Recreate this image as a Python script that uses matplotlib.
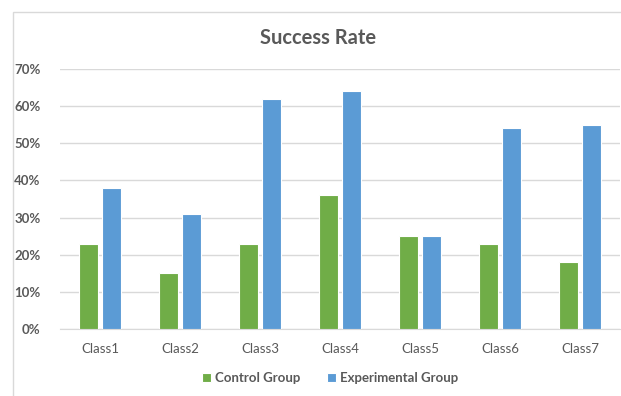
import matplotlib
matplotlib.use('Agg')
import matplotlib.pyplot as plt
import numpy as np
from matplotlib.patches import Rectangle

plt.rcParams['font.family'] = ['Lato', 'DejaVu Sans']

# data
classes = ['Class1', 'Class2', 'Class3', 'Class4', 'Class5', 'Class6', 'Class7']
control = [0.23, 0.15, 0.23, 0.36, 0.25, 0.23, 0.18]
experimental = [0.38, 0.31, 0.62, 0.64, 0.25, 0.54, 0.55]
yticks = [0, 0.1, 0.2, 0.3, 0.4, 0.5, 0.6, 0.7]

green = '#70AD47'
blue = '#5B9BD5'
txt = '#595959'

fig = plt.figure(figsize=[6.21, 3.96], dpi=100)
ax = fig.add_axes([60/621, 67/396, 560/621, 260/396])

x = np.arange(len(classes))
w = 0.23
ax.bar(x - 0.145, control, w, color=green, edgecolor='white', linewidth=0.8,
       label='Control Group', zorder=3)
ax.bar(x + 0.145, experimental, w, color=blue, edgecolor='white', linewidth=0.8,
       label='Experimental Group', zorder=3)

ax.set_xlim(-0.5, 6.5)
ax.set_ylim(0, 0.7)
ax.set_yticks(yticks)
ax.set_yticklabels(['{:.0f}%'.format(v * 100) for v in yticks],
                   fontsize=9.5, fontweight='bold', color=txt)
ax.set_xticks(x)
ax.set_xticklabels(classes, fontsize=9.5, color=txt)
ax.tick_params(axis='x', length=0, pad=10)
ax.tick_params(axis='y', length=0, pad=14)
ax.yaxis.grid(True, color='#D9D9D9', linewidth=1, zorder=0)
for s in ['top', 'right', 'left']:
    ax.spines[s].set_visible(False)
ax.spines['bottom'].set_color('#D9D9D9')

# title
fig.text(0.5 + 8/621, 1 - 38/396, 'Success Rate', ha='center', va='center',
         fontsize=14.5, fontweight='bold', color=txt)

# legend
fig.legend(loc='center', bbox_to_anchor=(330/621, 1 - 378/396), ncol=2,
           frameon=False, prop={'weight': 'bold', 'size': 9.5},
           handlelength=0.7, handleheight=0.7, handletextpad=0.3,
           columnspacing=2.0, labelcolor=txt)

# outer frame
fig.patches.append(Rectangle((13/621, -0.1), 1.1, 1 - 12/396 + 0.1,
                             transform=fig.transFigure, fill=False,
                             edgecolor='#D9D9D9', linewidth=1))

fig.savefig('out.png', dpi=100)
